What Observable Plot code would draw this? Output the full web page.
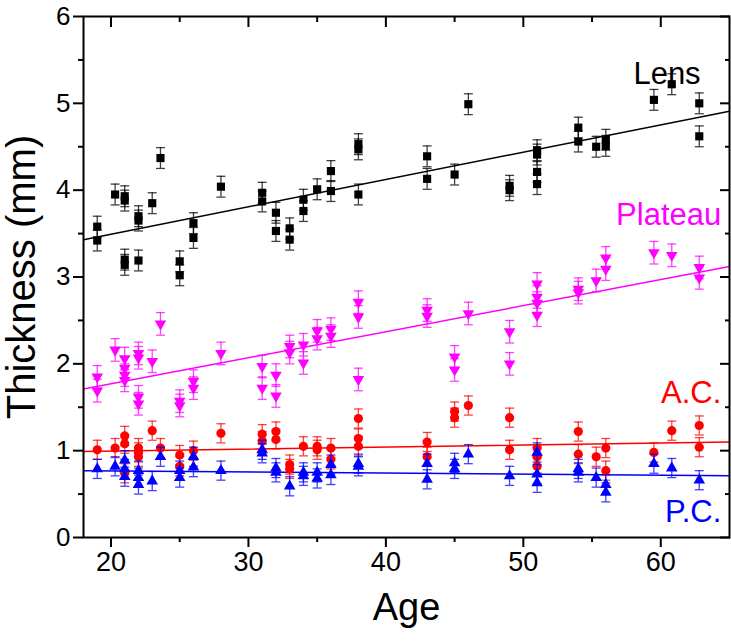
<!DOCTYPE html>
<html><head><meta charset="utf-8">
<script src="https://cdn.jsdelivr.net/npm/d3@7"></script>
<script src="https://cdn.jsdelivr.net/npm/@observablehq/plot@0.6"></script>
<style>body{margin:0;background:#fff;} svg{display:block;}</style>
</head><body><div id="chart"></div>
<script>
// ---- Data ----
const lensAge = [19,19,20.3,21,21,21,21,22,22,22,23,23.6,25,25,26,26,28,31,31,32,32,33,33,34,34,35,36,36,38,38,38,43,43,45,46,49,49,51,51,51,51,54,54,55.3,56,56,59.5,60.8,62.8,62.8];
const lensVal = [3.58,3.42,3.95,3.93,3.88,3.20,3.14,3.70,3.65,3.19,3.85,4.37,3.18,3.02,3.62,3.45,4.04,3.97,3.87,3.74,3.53,3.56,3.43,3.89,3.76,4.01,4.22,3.99,4.53,4.47,3.95,4.39,4.13,4.18,4.99,4.05,4.00,4.46,4.41,4.21,4.07,4.72,4.56,4.50,4.58,4.51,5.04,5.22,5.00,4.62];

const platAge = [19,19,20.3,21,21,21,21,22,22,22,22,23,23.6,25,25,26,26,28,31,31,32,32,33,33,34,34,35,35,36,36,38,38,38,43,43,45,45,46,49,49,51,51,51,51,54,54,55.3,56,56,59.5,60.8,62.8,62.8];
const platVal = [1.85,1.69,2.16,2.06,1.95,1.87,1.81,2.12,2.07,1.62,1.54,2.03,2.46,1.57,1.52,1.80,1.72,2.12,1.97,1.72,1.87,1.63,2.20,2.13,2.22,2.01,2.38,2.29,2.40,2.32,2.71,2.54,1.82,2.62,2.55,2.08,1.93,2.58,2.37,2.00,2.92,2.77,2.70,2.56,2.86,2.82,2.96,3.22,3.09,3.28,3.25,3.11,2.99];

const acAge = [19,20.3,21,21,21,22,22,22,23,23.6,25,25,26,28,31,31,32,32,33,33,34,35,35,36,36,38,38,38,43,43,45,45,46,49,49,51,51,51,54,54,55.3,56,56,59.5,60.8,62.8,62.8];
const acVal = [1.01,1.03,1.17,1.08,0.74,1.03,0.98,0.93,1.23,1.03,0.95,0.82,1.00,1.20,1.19,1.11,1.22,1.13,0.84,0.79,1.05,1.05,1.01,1.03,0.90,1.37,1.14,1.05,1.10,0.93,1.45,1.38,1.52,1.38,1.01,1.03,0.93,0.82,1.22,0.96,0.93,1.03,0.77,0.98,1.23,1.29,1.04];

const pcAge = [19,20.3,21,21,21,22,22,22,23,23.6,25,25,26,26,28,31,31,32,32,33,34,34,35,35,36,36,38,38,43,43,45,45,46,49,51,51,51,54,54,55.3,56,56,59.5,60.8,62.8];
const pcVal = [0.79,0.82,0.89,0.79,0.70,0.77,0.69,0.61,0.65,0.93,0.77,0.69,0.93,0.81,0.77,1.01,0.97,0.80,0.75,0.59,0.75,0.71,0.75,0.68,0.84,0.72,0.85,0.82,0.85,0.67,0.86,0.79,0.96,0.71,0.98,0.73,0.63,0.79,0.75,0.69,0.61,0.52,0.85,0.80,0.66];

const errLens = 0.12, errPlat = 0.13, errAC = 0.11, errPC = 0.11;

// linear fit lines (endpoints at the axis limits)
const fitAge = [18, 65];
const lensFit = [3.43, 4.91];
const platFit = [1.71, 3.12];
const acFit = [0.99, 1.10];
const pcFit = [0.77, 0.71];

const seriesNames = ["Lens", "Plateau", "A.C.", "P.C."];
const seriesColors = ["#000000", "#ff00ff", "#ff0000", "#0000ff"];
const labelX = [62.9, 64.4, 64.4, 64.4];
const labelY = [5.34, 3.71, 1.66, 0.29];

const xMajor = [20, 30, 40, 50, 60];
const xMinor = [25, 35, 45, 55];
const yMajor = [0, 1, 2, 3, 4, 5, 6];
const yMinor = [0.5, 1.5, 2.5, 3.5, 4.5, 5.5];

// ---- Build tables ----
const rows = (ages, vals, err) => ages.map((a, i) => ({age: a, v: vals[i], lo: vals[i] - err, hi: vals[i] + err}));
const lens = rows(lensAge, lensVal, errLens);
const plat = rows(platAge, platVal, errPlat);
const ac = rows(acAge, acVal, errAC);
const pc = rows(pcAge, pcVal, errPC);
const fit = (vals) => fitAge.map((a, i) => ({age: a, v: vals[i]}));

const capSymbol = {draw(ctx) { ctx.moveTo(-4.5, 0); ctx.lineTo(4.5, 0); }};

function errMarks(data, color) {
  return [
    Plot.ruleX(data, {x: "age", y1: "lo", y2: "hi", stroke: color, strokeWidth: 1.3, strokeOpacity: 0.75}),
    Plot.dot(data, {x: "age", y: "lo", symbol: capSymbol, stroke: color, fill: "none", strokeWidth: 1.3, strokeOpacity: 0.75}),
    Plot.dot(data, {x: "age", y: "hi", symbol: capSymbol, stroke: color, fill: "none", strokeWidth: 1.3, strokeOpacity: 0.75})
  ];
}

const font = "'Liberation Sans', Arial, Helvetica, sans-serif";
const intFmt = d => String(d);

const chart = Plot.plot({
  width: 731,
  height: 644,
  marginLeft: 83,
  marginRight: 2,
  marginTop: 16,
  marginBottom: 107,
  style: {fontFamily: font, background: "#fff", overflow: "visible"},
  x: {domain: [18, 65]},
  y: {domain: [0, 6]},
  marks: [
    // fit lines
    Plot.line(fit(lensFit), {x: "age", y: "v", stroke: seriesColors[0], strokeWidth: 1.5}),
    Plot.line(fit(platFit), {x: "age", y: "v", stroke: seriesColors[1], strokeWidth: 1.5}),
    Plot.line(fit(acFit), {x: "age", y: "v", stroke: seriesColors[2], strokeWidth: 1.5}),
    Plot.line(fit(pcFit), {x: "age", y: "v", stroke: seriesColors[3], strokeWidth: 1.5}),
    // Lens
    ...errMarks(lens, seriesColors[0]),
    Plot.dot(lens, {x: "age", y: "v", symbol: "square", r: 4.6, fill: seriesColors[0], stroke: "none"}),
    // Plateau
    ...errMarks(plat, seriesColors[1]),
    Plot.dot(plat, {x: "age", y: "v", symbol: "triangle", rotate: 180, r: 4.3, fill: seriesColors[1], stroke: "none"}),
    // A.C.
    ...errMarks(ac, seriesColors[2]),
    Plot.dot(ac, {x: "age", y: "v", symbol: "circle", r: 4.6, fill: seriesColors[2], stroke: "none"}),
    // P.C.
    ...errMarks(pc, seriesColors[3]),
    Plot.dot(pc, {x: "age", y: "v", symbol: "triangle", r: 4.3, fill: seriesColors[3], stroke: "none"}),
    // series labels
    Plot.text(seriesNames, {x: (d, i) => labelX[i], y: (d, i) => labelY[i], text: d => d, fill: (d, i) => seriesColors[i], textAnchor: "end", fontSize: 31, fontFamily: font}),
    // axes
    Plot.axisX({ticks: xMajor, tickSize: 10, strokeWidth: 2, tickPadding: 4, fontSize: 27, tickFormat: intFmt, label: null, fill: "#000"}),
    Plot.axisX({ticks: xMinor, tickSize: 5, strokeWidth: 2, tickFormat: () => "", label: null}),
    Plot.axisX({anchor: "top", ticks: xMajor, tickSize: -10, strokeWidth: 2, tickFormat: () => "", label: null}),
    Plot.axisX({anchor: "top", ticks: xMinor, tickSize: -5, strokeWidth: 2, tickFormat: () => "", label: null}),
    Plot.axisY({ticks: yMajor, tickSize: 10, strokeWidth: 2, tickPadding: 3, fontSize: 26, tickFormat: intFmt, label: null, fill: "#000"}),
    Plot.axisY({ticks: yMinor, tickSize: 5, strokeWidth: 2, tickFormat: () => "", label: null}),
    Plot.axisY({anchor: "right", ticks: yMajor, tickSize: -10, strokeWidth: 2, tickFormat: () => "", label: null}),
    Plot.axisY({anchor: "right", ticks: yMinor, tickSize: -5, strokeWidth: 2, tickFormat: () => "", label: null}),
    Plot.frame({stroke: "#000", strokeWidth: 2}),
    // axis titles
    Plot.text(["Age"], {frameAnchor: "bottom", dy: 82, textAnchor: "middle", text: d => d, fontSize: 38, fill: "#000", fontFamily: font}),
    Plot.text(["Thickness (mm)"], {frameAnchor: "left", dx: -61, rotate: -90, textAnchor: "middle", text: d => d, fontSize: 40, fill: "#000", fontFamily: font})
  ]
});
document.getElementById("chart").appendChild(chart);
</script>
</body></html>
